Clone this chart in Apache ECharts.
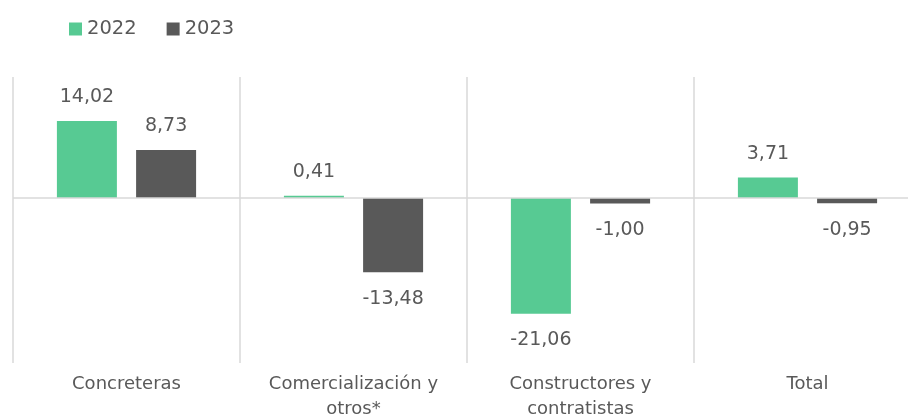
<!DOCTYPE html>
<html><head><meta charset="utf-8">
<script src="https://cdn.jsdelivr.net/npm/echarts@6/dist/echarts.min.js"></script>
<style>html,body{margin:0;padding:0;background:#fff;overflow:hidden;width:908px;height:419px}#c{width:930px;height:419px}</style>
</head><body><div id="c"></div>
<script>
const categories = ['Concreteras', 'Comercialización y\notros*', 'Constructores y\ncontratistas', 'Total'];
const seriesNames = ['2022', '2023'];
const values2022 = [14.02, 0.41, -21.06, 3.71];
const values2023 = [8.73, -13.48, -1.00, -0.95];
const colors = ['#57ca93', '#595959'];
const textColor = '#595959';
const font = 'DejaVu Sans';

const fmt = p => p.value.toFixed(2).replace('.', ',');
function mkSeries(name, data, color, withZero) {
  const s = {
    name, type: 'bar', barWidth: 60, barGap: '32%',
    itemStyle: { color },
    label: { show: true, position: 'top', distance: 14, formatter: fmt,
      color: textColor, fontSize: 19, fontFamily: font }
  };
  s.data = data.map(v => ({ value: v, label: v < 0 ? { position: 'bottom', distance: 17 } : { position: 'top', distance: 14 } }));
  if (withZero) {
    s.markLine = { silent: true, symbol: 'none', label: { show: false },
      lineStyle: { color: '#d9d9d9', width: 1.5, type: 'solid' }, data: [{ yAxis: 0 }] };
  }
  return s;
}
const chart = echarts.init(document.getElementById('c'));
chart.setOption({
  animation: false,
  legend: { left: 64, top: 14, icon: 'rect', itemWidth: 13, itemHeight: 13, itemGap: 30,
    textStyle: { color: textColor, fontSize: 19.5, fontFamily: font }, data: seriesNames },
  grid: { left: 13, right: 9, top: 77, bottom: 56, containLabel: false, outerBoundsMode: 'none' },
  xAxis: { type: 'category', data: categories,
    axisLine: { show: false }, axisTick: { show: false },
    splitLine: { show: true, interval: 0, lineStyle: { color: '#d9d9d9', width: 1.5 } },
    axisLabel: { interval: 0, margin: 9, color: textColor, fontSize: 18, fontFamily: font, lineHeight: 25 } },
  yAxis: { type: 'value', min: -30, max: 22, show: false, splitLine: { show: false } },
  series: [mkSeries(seriesNames[0], values2022, colors[0], true), mkSeries(seriesNames[1], values2023, colors[1], false)]
});
</script></body></html>
